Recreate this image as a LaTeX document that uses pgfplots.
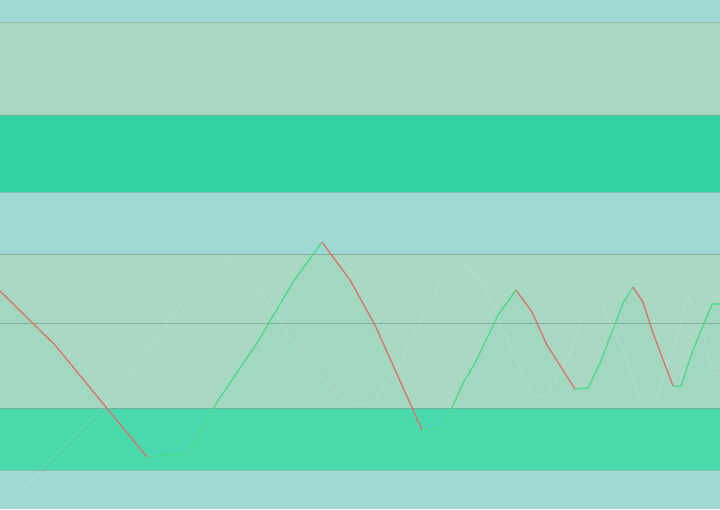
\documentclass[border=0pt]{standalone}
\usepackage{pgfplots}
\pgfplotsset{compat=1.18}
\definecolor{tealA}{HTML}{A0D9D2}
\definecolor{sageA}{HTML}{A9D7C1}
\definecolor{sageB}{HTML}{A9D8C3}
\definecolor{brightA}{HTML}{32D3A4}
\definecolor{brightB}{HTML}{4AD9AE}
\definecolor{sepline}{HTML}{7BA897}
\definecolor{upgreen}{HTML}{4FD98C}
\definecolor{downred}{HTML}{DE7170}
\begin{document}
\begin{tikzpicture}
\begin{axis}[
  scale only axis, width=720bp, height=509bp,
  xmin=0, xmax=720, ymin=0, ymax=509,
  hide axis, clip=true,
]
% bands
\addplot[fill=tealA, draw=none] coordinates {(0,0) (720,0) (720,509) (0,509)} -- cycle;
\addplot[fill=sageA, draw=none] coordinates {(0,394) (720,394) (720,487) (0,487)} -- cycle;
\addplot[fill=brightA, draw=none] coordinates {(0,317) (720,317) (720,394) (0,394)} -- cycle;
\addplot[fill=sageB, draw=none] coordinates {(0,101) (720,101) (720,255) (0,255)} -- cycle;
\addplot[fill=brightB, draw=none] coordinates {(0,39) (720,39) (720,101) (0,101)} -- cycle;
% faint fill under main series
\addplot[fill=upgreen, fill opacity=0.07, draw=none] coordinates {
(0,218) (55,164) (147,52) (188,56) (217,107) (257,166) (293,227) (322,267)
(350,229) (375,184) (422,79) (443,81) (463,126) (475,146) (498,194) (516,219)
(532,197) (547,164) (575,120) (588,121) (600,146) (623,206) (633,222)
(643,207) (653,176) (673,123) (681,123) (693,159) (712,205) (720,205)
(720,39) (0,39)} -- cycle;
% separator lines
\addplot[sepline, opacity=0.45, line width=0.8bp] coordinates {(0,487) (720,487)};
\addplot[sepline, opacity=0.6, line width=0.8bp] coordinates {(0,394) (720,394)};
\addplot[sepline, opacity=0.6, line width=0.8bp] coordinates {(0,317) (720,317)};
\addplot[sepline, opacity=0.8, line width=0.8bp] coordinates {(0,255) (720,255)};
\addplot[sepline, opacity=0.8, line width=0.8bp] coordinates {(0,186) (720,186)};
\addplot[sepline, opacity=0.8, line width=0.8bp] coordinates {(0,101) (720,101)};
\addplot[sepline, opacity=0.6, line width=0.8bp] coordinates {(0,39) (720,39)};
% faint background series
\addplot[white, opacity=0.14, line width=1bp] coordinates {
(10,1) (40,39) (110,109) (150,162) (190,217) (227,252) (260,219) (290,172)
(333,119) (350,106) (373,106) (400,146) (420,187) (440,226) (462,246) (483,226)
(500,187) (532,113) (547,114) (567,149) (583,192) (600,209) (623,159) (643,104)
(653,104) (673,159) (688,212) (697,199) (713,136) (720,135)};
% main series: falling parts red, rising parts green
\addplot[downred, line width=1.3bp] coordinates {(0,218) (55,164) (147,52)};
\addplot[upgreen, line width=1.3bp] coordinates {(147,52) (188,56) (217,107) (257,166) (293,227) (322,267)};
\addplot[downred, line width=1.3bp] coordinates {(322,267) (350,229) (375,184) (422,79)};
\addplot[upgreen, line width=1.3bp] coordinates {(422,79) (443,81) (463,126) (475,146) (498,194) (516,219)};
\addplot[downred, line width=1.3bp] coordinates {(516,219) (532,197) (547,164) (575,120)};
\addplot[upgreen, line width=1.3bp] coordinates {(575,120) (588,121) (600,146) (623,206) (633,222)};
\addplot[downred, line width=1.3bp] coordinates {(633,222) (643,207) (653,176) (673,123)};
\addplot[upgreen, line width=1.3bp] coordinates {(673,123) (681,123) (693,159) (712,205) (720,205)};
\end{axis}
\end{tikzpicture}
\end{document}
